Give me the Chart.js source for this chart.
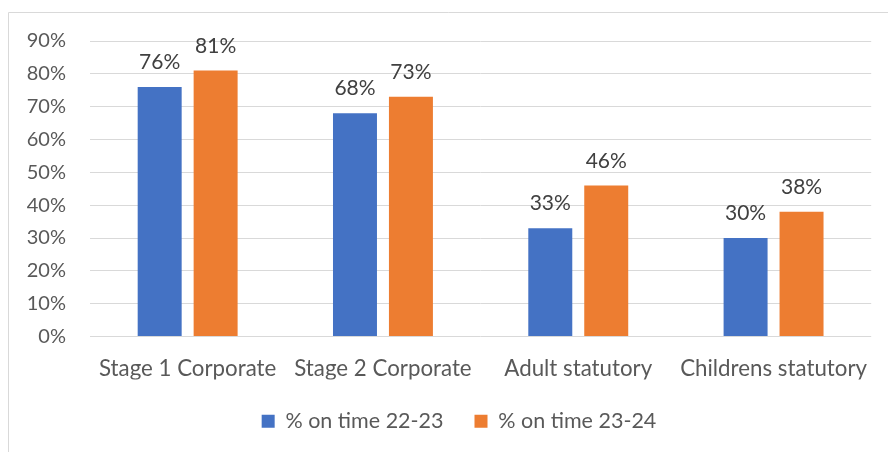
<!DOCTYPE html>
<html>
<head>
<meta charset="utf-8">
<script src="https://cdn.jsdelivr.net/npm/chart.js@4"></script>
<style>
  html, body { margin: 0; padding: 0; background: #fff; }
  #wrap { width: 888px; height: 452px; position: relative; }
</style>
</head>
<body>
<div id="wrap"><canvas id="chart"></canvas></div>
<script>
const categories = ['Stage 1 Corporate', 'Stage 2 Corporate', 'Adult statutory', 'Childrens statutory'];
const seriesNames = ['% on time 22-23', '% on time 23-24'];
const onTime2223 = [76, 68, 33, 30];
const onTime2324 = [81, 73, 46, 38];
const yTicks = [0, 10, 20, 30, 40, 50, 60, 70, 80, 90];

const FONT = 'Lato, "Open Sans", sans-serif';

// frame lines round the chart, like the Excel chart area border
const framePlugin = {
    id: 'frame',
    beforeDraw(chart) {
        const ctx = chart.ctx;
        ctx.save();
        ctx.strokeStyle = '#d9d9d9';
        ctx.lineWidth = 1;
        ctx.beginPath();
        ctx.moveTo(8.5, chart.height);
        ctx.lineTo(8.5, 12.5);
        ctx.lineTo(chart.width, 12.5);
        ctx.stroke();
        ctx.restore();
    }
};

// Excel centres the legend a bit to the right, under the plot area
const legendShift = {
    id: 'legendShift',
    afterLayout(chart) {
        chart.legend.left += 46;
    }
};

// value labels above each bar
const valueLabels = {
    id: 'valueLabels',
    afterDatasetsDraw(chart) {
        const ctx = chart.ctx;
        ctx.save();
        ctx.font = '21px ' + FONT;
        ctx.fillStyle = '#404040';
        ctx.textAlign = 'center';
        ctx.textBaseline = 'bottom';
        chart.data.datasets.forEach((ds, i) => {
            const meta = chart.getDatasetMeta(i);
            meta.data.forEach((bar, j) => {
                ctx.fillText(ds.data[j] + '%', bar.x, bar.y - 14);
            });
        });
        ctx.restore();
    }
};

const ctx = document.getElementById('chart');
new Chart(ctx, {
    type: 'bar',
    data: {
        labels: categories,
        datasets: [{
            label: seriesNames[0],
            data: onTime2223,
            backgroundColor: '#4472C4',
            categoryPercentage: 0.573,
            barPercentage: 0.786
        }, {
            label: seriesNames[1],
            data: onTime2324,
            backgroundColor: '#ED7D31',
            categoryPercentage: 0.573,
            barPercentage: 0.786
        }]
    },
    options: {
        responsive: true,
        maintainAspectRatio: false,
        animation: false,
        layout: {
            padding: { top: 41, left: 0, right: 16, bottom: 10 }
        },
        scales: {
            x: {
                grid: { display: false, drawTicks: false },
                border: { display: false },
                ticks: {
                    color: '#595959',
                    font: { family: FONT, size: 22.3 },
                    padding: 19,
                    maxRotation: 0
                },
                afterFit(scale) { scale.height = 43; }
            },
            y: {
                min: 0,
                max: 90,
                afterBuildTicks(scale) {
                    scale.ticks = yTicks.map(v => ({ value: v }));
                },
                grid: { color: '#d9d9d9', drawTicks: false },
                border: { display: false },
                ticks: {
                    color: '#595959',
                    font: { family: FONT, size: 20 },
                    padding: 24,
                    callback: v => v + '%'
                },
                afterFit(scale) { scale.width = 90; }
            }
        },
        plugins: {
            legend: {
                position: 'bottom',
                labels: {
                    color: '#595959',
                    font: { family: FONT, size: 21.5 },
                    boxWidth: 13,
                    boxHeight: 13,
                    padding: 31
                }
            },
            tooltip: { enabled: false }
        }
    },
    plugins: [framePlugin, legendShift, valueLabels]
});
</script>
</body>
</html>
